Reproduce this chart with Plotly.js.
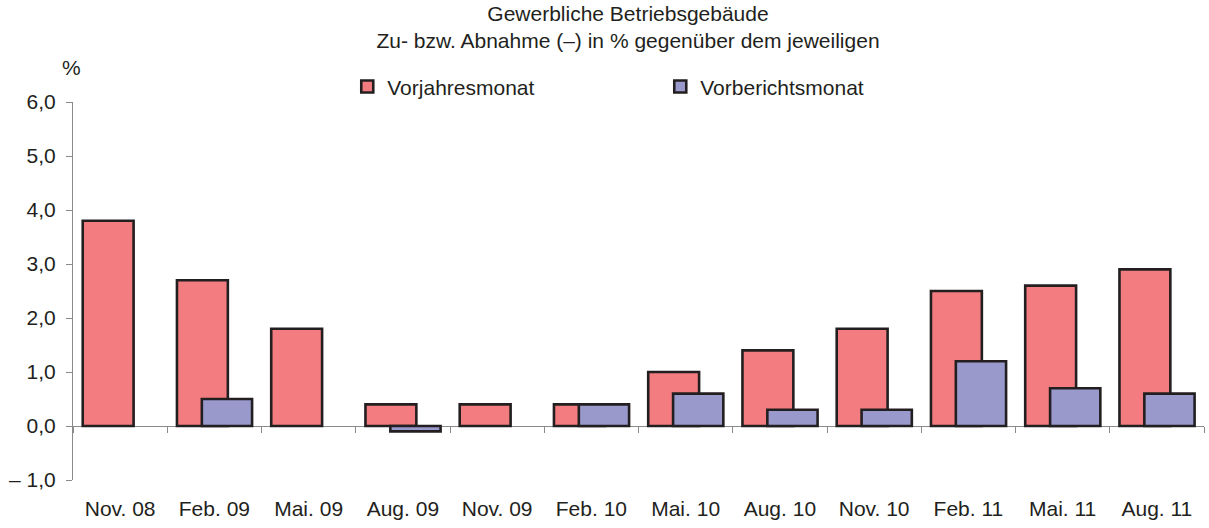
<!DOCTYPE html>
<html>
<head>
<meta charset="utf-8">
<script src="https://cdn.plot.ly/plotly-3.0.1.min.js"></script>
<style>html,body{margin:0;padding:0;background:#fff;}#chart{width:1209px;height:528px;}</style>
</head>
<body>
<div id="chart"></div>
<script>
const categories = ["Nov. 08","Feb. 09","Mai. 09","Aug. 09","Nov. 09","Feb. 10","Mai. 10","Aug. 10","Nov. 10","Feb. 11","Mai. 11","Aug. 11"];
const vorjahresmonat = [3.8, 2.7, 1.8, 0.4, 0.4, 0.4, 1.0, 1.4, 1.8, 2.5, 2.6, 2.9];
const vorberichtsmonat = [null, 0.5, null, -0.1, null, 0.4, 0.6, 0.3, 0.3, 1.2, 0.7, 0.6];
const yTickVals = [-1, 0, 1, 2, 3, 4, 5, 6];
const yTickText = ["\u2013 1,0", "0,0", "1,0", "2,0", "3,0", "4,0", "5,0", "6,0"];

const FONT = "Liberation Sans, Arial, sans-serif";
const TXT = "#231f20";
const EDGE = "#231f20";
const AXIS = "#8a8a8a";

const traces = [
  {
    type: "bar", name: "Vorjahresmonat", x: categories, y: vorjahresmonat,
    offset: -0.397, width: 0.54,
    marker: {color: "#f27c7f", line: {color: EDGE, width: 2.6}},
    hoverinfo: "x+y"
  },
  {
    type: "bar", name: "Vorberichtsmonat", x: categories, y: vorberichtsmonat,
    offset: -0.133, width: 0.533,
    marker: {color: "#9999cc", line: {color: EDGE, width: 2.6}},
    hoverinfo: "x+y"
  },
  {
    type: "scatter", x: [], y: [], xaxis: "x2", yaxis: "y", showlegend: false, hoverinfo: "skip"
  }
];

const layout = {
  width: 1209, height: 528,
  margin: {l: 73, r: 5, t: 102, b: 48},
  paper_bgcolor: "#fff", plot_bgcolor: "#fff",
  font: {family: FONT, size: 21, color: TXT},
  barmode: "overlay",
  showlegend: true,
  title: {
    text: "Gewerbliche Betriebsgebäude<br>Zu- bzw. Abnahme (\u2013) in % gegenüber dem jeweiligen",
    font: {family: FONT, size: 21, color: TXT},
    xref: "container", x: 628/1209, xanchor: "center",
    yref: "container", y: 1 - 21/528, yanchor: "middle"
  },
  legend: {
    orientation: "h", x: 0.2425, xanchor: "left", y: 1.04, yanchor: "middle",
    font: {family: FONT, size: 21, color: TXT},
    entrywidth: 268, entrywidthmode: "pixels",
    bgcolor: "rgba(0,0,0,0)", traceorder: "normal"
  },
  xaxis: {
    type: "category", range: [-0.5, 11.5],
    showline: false, showgrid: false, zeroline: false, ticks: "",
    tickfont: {family: FONT, size: 21, color: TXT},
    ticklabelstandoff: 14,
    fixedrange: true
  },
  xaxis2: {
    overlaying: "x", anchor: "free", position: 1/7, side: "bottom",
    type: "linear", range: [-0.5, 11.5],
    tickmode: "linear", tick0: -0.5, dtick: 1,
    ticks: "outside", ticklen: 6, tickwidth: 1, tickcolor: AXIS,
    showticklabels: false, showgrid: false, zeroline: false, showline: false,
    fixedrange: true
  },
  yaxis: {
    range: [-1, 6],
    tickmode: "array", tickvals: yTickVals, ticktext: yTickText,
    showline: true, linecolor: AXIS, linewidth: 1,
    ticks: "outside", ticklen: 6, tickwidth: 1, tickcolor: AXIS,
    showgrid: false,
    zeroline: true, zerolinecolor: AXIS, zerolinewidth: 1,
    tickfont: {family: FONT, size: 21, color: TXT},
    ticklabelstandoff: 6,
    fixedrange: true
  },
  annotations: [
    {text: "%", xref: "paper", yref: "paper", x: -0.001, y: 1 + 34/378,
     xanchor: "center", yanchor: "middle", showarrow: false,
     font: {family: FONT, size: 21, color: TXT}}
  ]
};

Plotly.newPlot("chart", traces, layout, {displayModeBar: false, staticPlot: true});
</script>
</body>
</html>
